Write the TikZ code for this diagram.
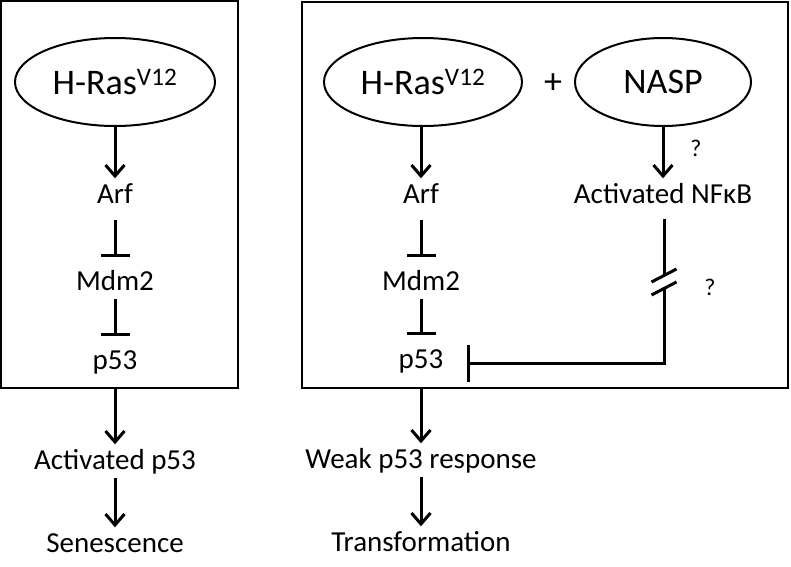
\documentclass[tikz,border=0pt]{standalone}
\usepackage{fontspec}
\setmainfont{Carlito}
\usetikzlibrary{shapes.geometric,arrows.meta}
\tikzset{
  panel/.style={draw, line width=2pt},
  gene/.style={draw, ellipse, line width=2pt, inner sep=0pt, minimum height=88pt, font=\fontsize{36}{40}\selectfont},
  lbl/.style={font=\fontsize{29}{33}\selectfont, text height=20pt, text depth=3pt, inner ysep=5pt, inner xsep=2pt},
  qmark/.style={font=\fontsize{24}{28}\selectfont},
  act/.style={line width=3pt, -{Straight Barb[length=11pt,width=19pt]}},
  inh/.style={line width=3pt, -{Bar[width=29pt]}, shorten >=8pt}
}
\begin{document}
\begin{tikzpicture}[x=1pt,y=-1pt]
\useasboundingbox (0,0) rectangle (791,566);
\draw[panel] (1,1) rectangle (238,388);
\draw[panel] (302,2) rectangle (788,388);
\node[gene, minimum width=200pt] (rasL) at (115,82) {H-Ras\textsuperscript{V12}};
\node[lbl] (arfL) at (115,195) {Arf};
\node[lbl] (mdmL) at (115,282) {Mdm2};
\node[lbl] (p53L) at (115,361) {p53};
\node[lbl] (actL) at (115,461) {Activated p53};
\node[lbl] (senL) at (115,544) {Senescence};
\node[gene, minimum width=198pt] (rasR) at (423,82) {H-Ras\textsuperscript{V12}};
\node[font=\fontsize{36}{40}\selectfont] (plus) at (553,84) {+};
\node[gene, minimum width=176pt] (nasp) at (663,82) {NASP};
\node[lbl] (arfR) at (421,195) {Arf};
\node[lbl] (mdmR) at (421,282) {Mdm2};
\node[lbl, inner xsep=23pt] (p53R) at (421,360) {p53};
\node[lbl] (nfkb) at (663,195) {Activated NFκB};
\node[lbl] (weak) at (421,460) {Weak p53 response};
\node[lbl] (trans) at (421,543) {Transformation};
\node[qmark] (q1) at (696,148) {?};
\node[qmark] (q2) at (710,287) {?};
\coordinate (gapT) at (664,275.5);
\coordinate (gapB) at (664,288.5);
\draw[act] (rasL) -- (arfL);
\draw[inh, shorten <=8pt] (arfL) -- (mdmL);
\draw[inh] (mdmL) -- (p53L);
\draw[act] (p53L |- 0,388) -- (actL);
\draw[act] (actL) -- (senL);
\draw[act] (rasR.south -| arfR) -- (arfR);
\draw[inh, shorten <=8pt] (arfR) -- (mdmR);
\draw[inh] (mdmR) -- (p53R);
\draw[act] (p53R |- 0,388) -- (weak);
\draw[act] (weak) -- (trans);
\draw[act] (nasp) -- (nfkb);
\draw[line width=3pt, shorten <=7pt] (nfkb.south -| gapT) -- (gapT);
\draw[line width=3pt, -{Bar[width=37pt]}] (gapB) |- ([yshift=-3pt]p53R.east);
\draw[line width=3pt] ([shift={(-12.5,6.5)}]gapT) -- ([shift={(12.5,-6.5)}]gapT);
\draw[line width=3pt] ([shift={(-12.5,6.5)}]gapB) -- ([shift={(12.5,-6.5)}]gapB);
\end{tikzpicture}
\end{document}
